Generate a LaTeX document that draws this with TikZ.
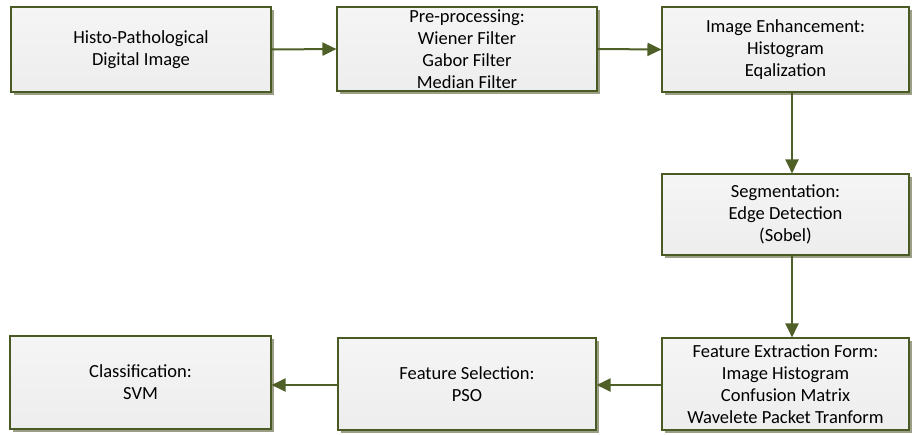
\documentclass[tikz,border=0pt]{standalone}
\usepackage{fontspec}
\setmainfont{Carlito}
\usetikzlibrary{arrows.meta,shadows}
\definecolor{edgecol}{HTML}{4A5A24}
\definecolor{shadcol}{HTML}{9C9E86}
\definecolor{arrcol}{HTML}{4F5F28}
\tikzset{
  procbox/.style={draw=edgecol, line width=1.1pt, rectangle, align=center,
    top color=white!96!black, bottom color=white!93!black,
    font=\fontsize{18.5}{22}\selectfont, inner sep=0pt,
    drop shadow={shadow xshift=3pt, shadow yshift=-3pt, fill=shadcol, opacity=1}},
  flow/.style={draw=arrcol, line width=2pt, -{Triangle[length=14pt,width=13pt]}}
}
\begin{document}
\begin{tikzpicture}[x=1pt,y=-1pt]
\useasboundingbox (0,0) rectangle (912,434);
\node[procbox, minimum width=260pt, minimum height=85pt] (b1) at (141,49.5) {Histo-Pathological\\Digital Image};
\node[procbox, minimum width=260pt, minimum height=84pt] (b2) at (467,49) {Pre-processing:\\Wiener Filter\\Gabor Filter\\Median Filter};
\node[procbox, minimum width=247pt, minimum height=85pt] (b3) at (785.5,49.5) {Image Enhancement:\\Histogram\\Eqalization};
\node[procbox, minimum width=247pt, minimum height=81pt] (b4) at (785.5,214.5) {Segmentation:\\Edge Detection\\(Sobel)};
\node[procbox, minimum width=247pt, minimum height=92pt] (b5) at (785.5,384) {Feature Extraction Form:\\Image Histogram\\Confusion Matrix\\Wavelete Packet Tranform};
\node[procbox, minimum width=258pt, minimum height=92pt] (b6) at (467,384) {Feature Selection:\\PSO};
\node[procbox, minimum width=261pt, minimum height=93pt] (b7) at (140.5,382.5) {Classification:\\SVM};
\coordinate (p6) at ([yshift=-1pt]b6.west);
\draw[flow] (b1.east) -- (b2.west);
\draw[flow] (b2.east) -- (b3.west);
\draw[flow] ([xshift=6.5pt]b3.south) -- ([xshift=6.5pt]b4.north);
\draw[flow] ([xshift=6.5pt]b4.south) -- ([xshift=6.5pt]b5.north);
\draw[flow] ([yshift=-1pt]b5.west) -- ([yshift=-1pt]b6.east);
\draw[flow] (p6) -- (b7.east |- p6);
\end{tikzpicture}
\end{document}
